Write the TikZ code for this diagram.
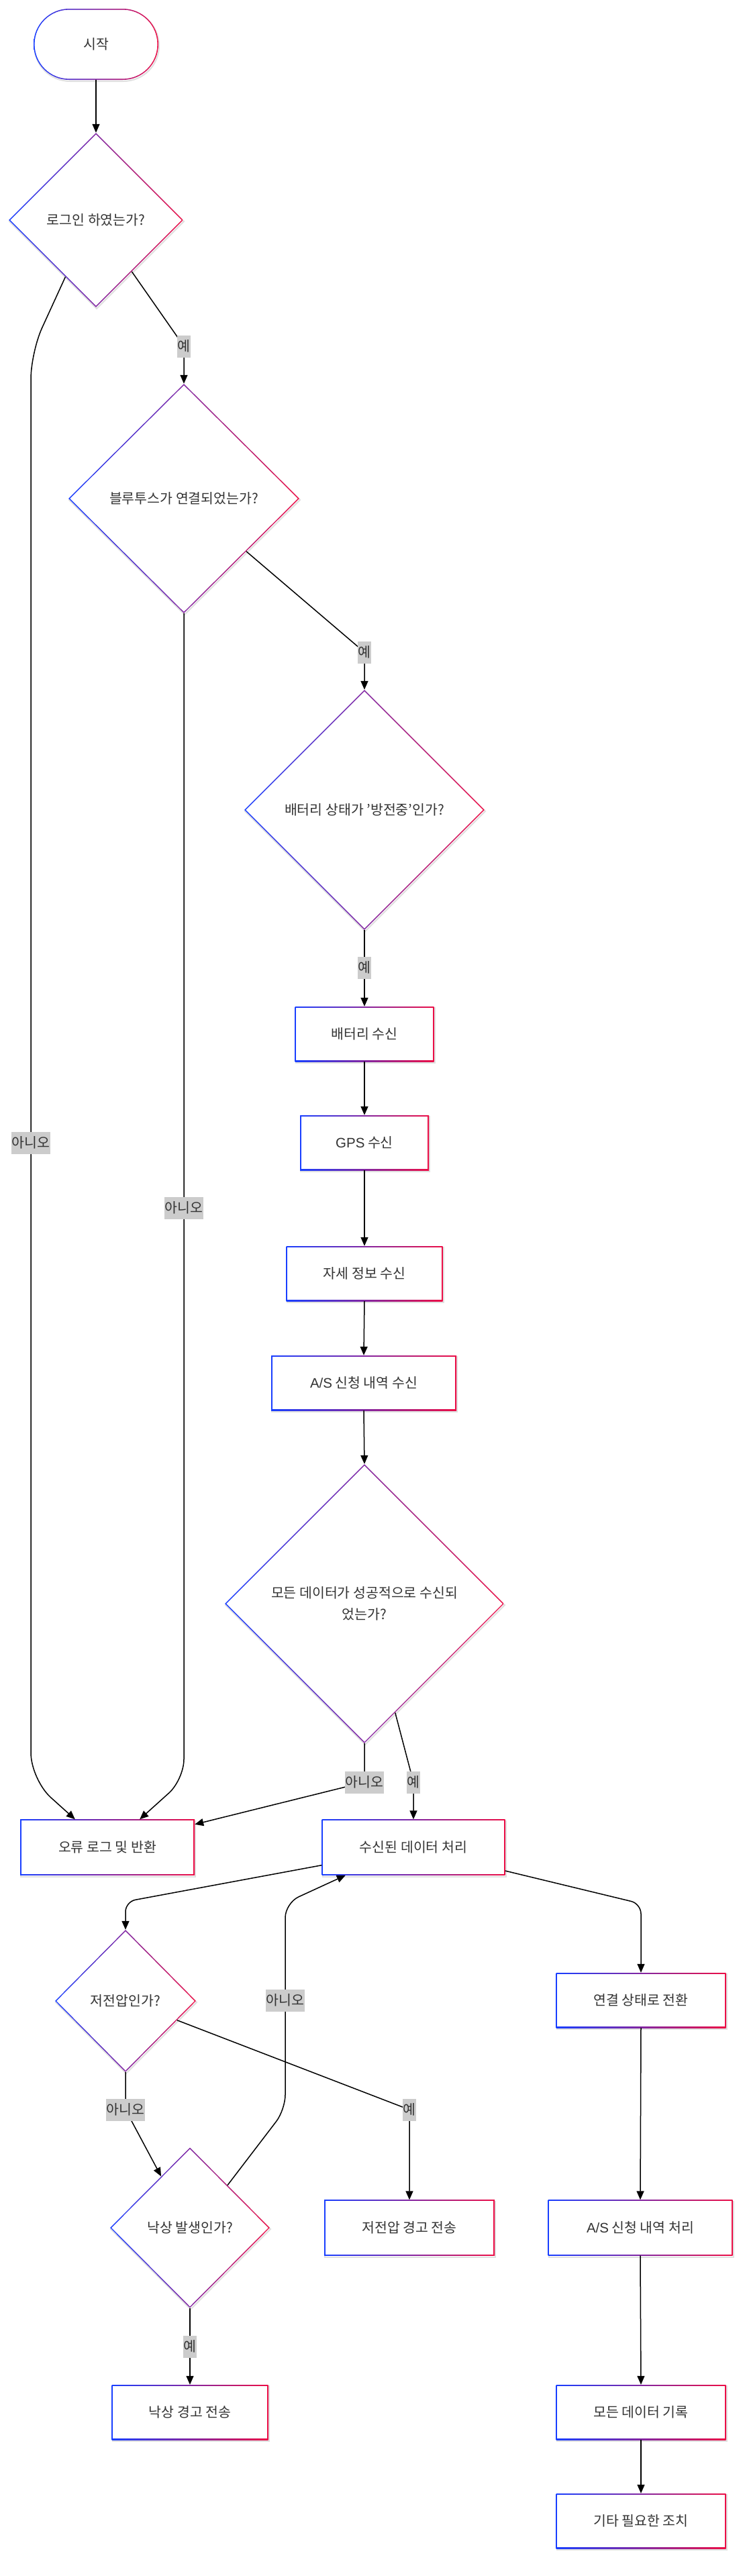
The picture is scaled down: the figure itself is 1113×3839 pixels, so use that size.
\documentclass[tikz,border=0pt]{standalone}
\usepackage{fontspec}
\setmainfont{Noto Sans CJK KR}
\newfontfamily\lat{Liberation Sans}
\usetikzlibrary{shapes.geometric,arrows.meta,calc}
\definecolor{gblue}{RGB}{24,62,255}
\definecolor{gred}{RGB}{236,14,70}
\definecolor{txt}{RGB}{51,51,51}
\definecolor{lblbg}{RGB}{204,204,204}
\newcommand\nodefont{\fontsize{20.5}{32}\selectfont}
\tikzset{
  shadowed/.style={preaction={draw=black!12, line width=2pt, transform canvas={xshift=1pt,yshift=-2pt}}},
  box/.style={rectangle, fill=white, inner sep=0pt, text=txt, font=\nodefont,
    minimum height=82pt, shadowed,
    path picture={
      \shade[left color=gblue,right color=gred] (path picture bounding box.south west) rectangle (path picture bounding box.north east);
      \fill[white] ([shift={(1.7pt,1.7pt)}]path picture bounding box.south west) rectangle ([shift={(-1.7pt,-1.7pt)}]path picture bounding box.north east);}},
  stadium/.style={rectangle, rounded corners=53pt, fill=white, inner sep=0pt, text=txt, font=\nodefont,
    minimum width=186pt, minimum height=106pt, shadowed,
    path picture={
      \shade[left color=gblue,right color=gred, sharp corners] (path picture bounding box.south west) rectangle (path picture bounding box.north east);
      \fill[white, rounded corners=51.5pt] ([shift={(1.6pt,1.6pt)}]path picture bounding box.south west) rectangle ([shift={(-1.6pt,-1.6pt)}]path picture bounding box.north east);}},
  dia/.style={diamond, aspect=1, fill=white, inner sep=0pt, text=txt, font=\nodefont, shadowed,
    path picture={
      \shade[left color=gblue,right color=gred] (path picture bounding box.south west) rectangle (path picture bounding box.north east);
      \fill[white] ([yshift=-2.2pt]path picture bounding box.north) -- ([xshift=-2.2pt]path picture bounding box.east) -- ([yshift=2.2pt]path picture bounding box.south) -- ([xshift=2.2pt]path picture bounding box.west) -- cycle;}},
  lbl/.style={fill=lblbg, text=txt, font=\nodefont, inner xsep=0.6pt, inner ysep=0pt, minimum height=33pt},
  arr/.style={draw=black, line width=1.5pt, -{Triangle[length=13pt,width=11pt]}}
}
\begin{document}
\begin{tikzpicture}[x=1pt,y=-1pt]
\fill[white] (0,0) rectangle (1113,3839);
\useasboundingbox (0,0) rectangle (1113,3839);

% nodes
\node[stadium] (start) at (143,66) {시작};
\node[dia, minimum width=260pt, minimum height=260pt] (d1) at (143,328) {로그인 하였는가?};
\node[dia, minimum width=344pt, minimum height=342pt] (d2) at (274,743) {블루투스가 연결되었는가?};
\node[dia, minimum width=358pt, minimum height=358pt] (d3) at (543,1207) {배터리 상태가 '방전중'인가?};
\node[box, minimum width=207pt] (b1) at (543,1541) {배터리 수신};
\node[box, minimum width=192pt] (gps) at (543,1703) {{\lat GPS} 수신};
\node[box, minimum width=233pt] (pose) at (543,1898) {자세 정보 수신};
\node[box, minimum width=276pt] (asr) at (542,2061) {{\lat A/S} 신청 내역 수신};
\node[dia, minimum width=416pt, minimum height=416pt, align=center] (d4) at (543,2390) {모든 데이터가 성공적으로 수신되\\었는가?};
\node[box, minimum width=260pt, minimum height=83pt] (err) at (160,2753) {오류 로그 및 반환};
\node[box, minimum width=273pt, minimum height=83pt] (proc) at (616,2753) {수신된 데이터 처리};
\node[dia, minimum width=210pt, minimum height=212pt] (lv) at (187,2982) {저전압인가?};
\node[box, minimum width=253pt] (conn) at (955,2981) {연결 상태로 전환};
\node[dia, minimum width=238pt, minimum height=239pt] (fall) at (283,3320) {낙상 발생인가?};
\node[box, minimum width=254pt, minimum height=83pt] (lvw) at (610,3320) {저전압 경고 전송};
\node[box, minimum width=275pt, minimum height=83pt] (asp) at (954,3320) {{\lat A/S} 신청 내역 처리};
\node[box, minimum width=233pt] (fallw) at (283,3595) {낙상 경고 전송};
\node[box, minimum width=253pt] (rec) at (955,3595) {모든 데이터 기록};
\node[box, minimum width=253pt] (etc) at (955,3757) {기타 필요한 조치};

% edges
\draw[arr] (start.south) -- (d1.north);
\draw[arr, rounded corners=12pt] ($(d1.south)!0.41!(d1.east)$) -- (274,516) -- (d2.north);
\draw[arr, rounded corners=40pt] ($(d1.south)!0.35!(d1.west)$) -- (46,525) -- (46,2652) -- ($(err.north west)!0.315!(err.north east)$);
\draw[arr, rounded corners=12pt] ($(d2.south)!0.54!(d2.east)$) -- (543,972) -- (d3.north);
\draw[arr, rounded corners=30pt] (d2.south) -- (274,2652) -- ($(err.north west)!0.685!(err.north east)$);
\draw[arr] (d3.south) -- (b1.north);
\draw[arr] (b1.south) -- (gps.north);
\draw[arr] (gps.south) -- (pose.north);
\draw[arr] (pose.south) -- (asr.north);
\draw[arr] (asr.south) -- (d4.north);
\draw[arr, rounded corners=10pt] (d4.south) -- (543,2656) -- ($(err.north east)!0.09!(err.south east)$);
\draw[arr, rounded corners=10pt] ($(d4.south)!0.22!(d4.east)$) -- (616,2656) -- (proc.north);
\draw[arr, rounded corners=15pt] ($(proc.north west)!0.82!(proc.south west)$) -- (187,2834) -- (lv.north);
\draw[arr, rounded corners=15pt] ($(proc.north east)!0.92!(proc.south east)$) -- (955,2837) -- (conn.north);
\draw[arr, rounded corners=10pt] (lv.south) -- (187,3144) -- ($(fall.north)!0.36!(fall.west)$);
\draw[arr, rounded corners=10pt] ($(lv.east)!0.27!(lv.south)$) -- (610,3144) -- (lvw.north);
\draw[arr, rounded corners=22pt] ($(fall.north)!0.47!(fall.east)$) -- (425,3144) -- (425,2836) -- ($(proc.south west)!0.13!(proc.south east)$);
\draw[arr] (fall.south) -- (fallw.north);
\draw[arr] (conn.south) -- (asp.north);
\draw[arr] (asp.south) -- (rec.north);
\draw[arr] (rec.south) -- (etc.north);

% edge labels
\node[lbl] (l1) at (274,516) {예};
\node[lbl] (l2) at (46,1703) {아니오};
\node[lbl] (l3) at (543,972) {예};
\node[lbl] (l4) at (274,1800) {아니오};
\node[lbl] (l5) at (543,1442) {예};
\node[lbl] (l6) at (543,2656) {아니오};
\node[lbl] (l7) at (616,2656) {예};
\node[lbl] (l8) at (187,3144) {아니오};
\node[lbl] (l9) at (610,3144) {예};
\node[lbl] (l10) at (425,2981) {아니오};
\node[lbl] (l11) at (283,3497) {예};
\end{tikzpicture}
\end{document}
